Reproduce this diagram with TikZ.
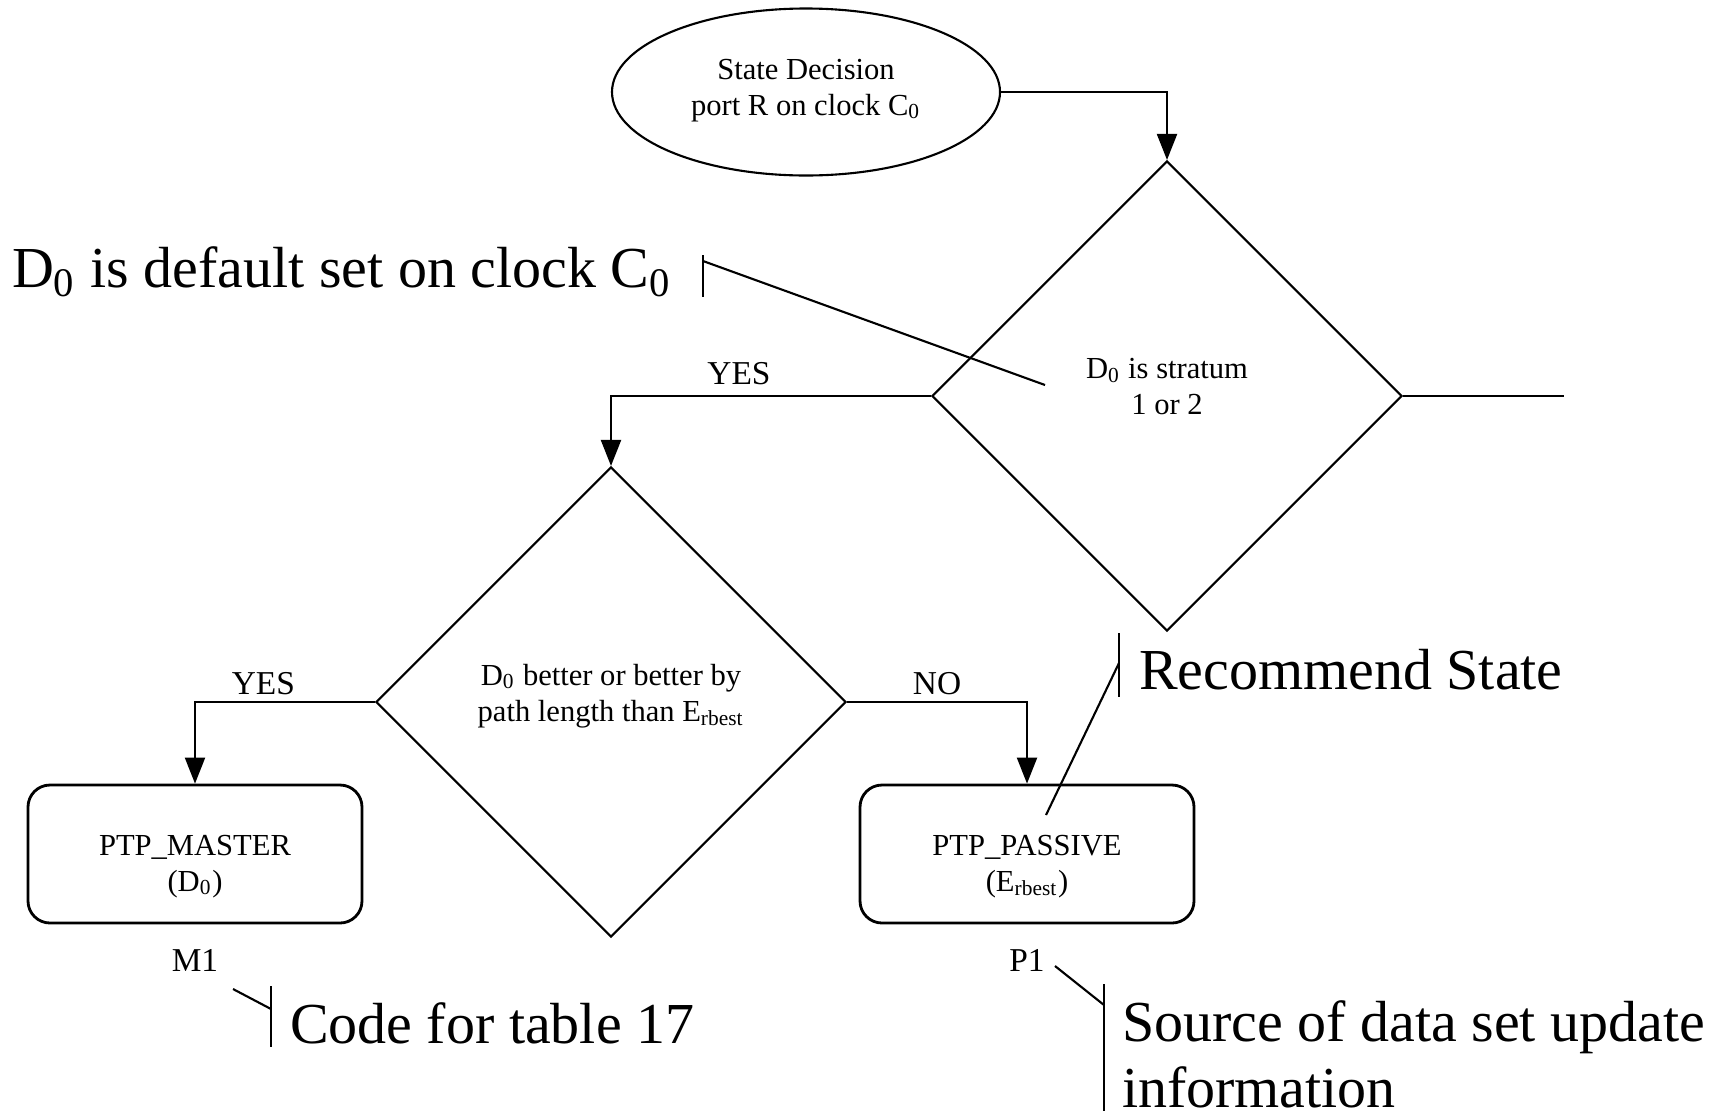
\documentclass[tikz,border=0pt]{standalone}
\usepackage{fontspec}
\setmainfont{Liberation Serif}
\usetikzlibrary{shapes.geometric}
\usetikzlibrary{positioning}
\usetikzlibrary{arrows.meta}

\newcommand{\boxStrut}{\rule{0pt}{0.45cm}}
\newcommand{\liftStrut}{\rule[-0.19cm]{0pt}{0pt}}

\begin{document}
\begin{tikzpicture}[line width = 0.6pt,
                    smallText/.style = {font = \fontsize{8.7}{10.3}\selectfont, align = center},
                    flowLabel/.style = {font = \fontsize{9.5}{11}\selectfont, inner sep = 1pt},
                    bigText/.style = {font = \fontsize{16.5}{18.8}\selectfont, align = left, inner sep = 0pt},
                    startEllipse/.style = {smallText, draw, ellipse, inner sep = 0pt, minimum width = 3.88cm, minimum height = 1.67cm},
                    decisionDiamond/.style = {smallText, draw, diamond, inner sep = 0pt, minimum width = 4.70cm, minimum height = 4.70cm},
                    stateBox/.style = {smallText, draw, rectangle, rounded corners = 0.22cm, line width = 0.8pt, minimum width = 3.34cm, minimum height = 1.38cm},
                    flowArrow/.style = {-{Triangle[length = 0.26cm, width = 0.2cm]}}]
    \useasboundingbox (0,0) rectangle (17.27,-11.11);

    % flow chart
    \node [startEllipse]    (start)   at (8.06,-0.92)  {State Decision\\port R on clock C\textsubscript{0}\rule[-0.1cm]{0pt}{0pt}};
    \node [decisionDiamond] (stratum) at (11.67,-3.96) {D\textsubscript{0} is stratum\\1 or 2\liftStrut};
    \node [decisionDiamond] (better)  at (6.11,-7.02)  {D\textsubscript{0} better or better by\\path length than E\textsubscript{rbest}\liftStrut};
    \node [stateBox]        (master)  at (1.95,-8.54)  {\boxStrut PTP\_MASTER\\(D\textsubscript{0})};
    \node [stateBox]        (passive) at (10.27,-8.54) {\boxStrut PTP\_PASSIVE\\(E\textsubscript{rbest})};

    \node [flowLabel, below = 0.2cm of master]  (codeM) {M1};
    \node [flowLabel, below = 0.2cm of passive] (codeP) {P1};

    \coordinate (stratumOut) at (15.64,-3.96);

    \draw [flowArrow] (start.east) -| (stratum.north);
    \draw [flowArrow] (stratum.west) -| (better.north)  node [flowLabel, pos = 0.3, above = 2pt]    {YES};
    \draw [flowArrow] (better.west)  -| (master.north)  node [flowLabel, pos = 0.31, above = 0.8pt] {YES};
    \draw [flowArrow] (better.east)  -| (passive.north) node [flowLabel, pos = 0.25, above = 0.8pt] {NO};
    \draw (stratum.east) -- (stratumOut);

    % callouts
    \node [bigText, anchor = west] (defaultNote) at (0.11,-2.72) {D\textsubscript{0} is default set on clock C\textsubscript{0}};
    \coordinate (defaultBarTop) at (7.03,-2.55);
    \coordinate (defaultBarBot) at (7.03,-2.97);
    \coordinate (defaultHook)   at (7.03,-2.61);
    \coordinate (defaultTip)    at (10.45,-3.85);
    \draw (defaultBarTop) -- (defaultBarBot);
    \draw (defaultHook) -- (defaultTip);

    \node [bigText, anchor = west] (recommendNote) at (11.38,-6.70) {Recommend State};
    \coordinate (recommendBarTop) at (11.19,-6.33);
    \coordinate (recommendBarBot) at (11.19,-6.97);
    \coordinate (recommendHook)   at (11.19,-6.63);
    \coordinate (recommendTip)    at (10.46,-8.15);
    \draw (recommendBarTop) -- (recommendBarBot);
    \draw (recommendHook) -- (recommendTip);

    \node [bigText, anchor = west] (tableNote) at (2.89,-10.23) {Code for table 17};
    \coordinate (tableBarTop) at (2.71,-9.86);
    \coordinate (tableBarBot) at (2.71,-10.47);
    \coordinate (tableHook)   at (2.71,-10.09);
    \coordinate (tableTip)    at (2.33,-9.89);
    \draw (tableBarTop) -- (tableBarBot);
    \draw (tableHook) -- (tableTip);

    \node [bigText, anchor = north west] (sourceNote) at (11.21,-10.00) {Source of data set update\\information};
    \coordinate (sourceBarTop) at (11.04,-9.84);
    \coordinate (sourceBarBot) at (11.04,-11.11);
    \coordinate (sourceHook)   at (11.04,-10.05);
    \coordinate (sourceTip)    at (10.55,-9.66);
    \draw (sourceBarTop) -- (sourceBarBot);
    \draw (sourceHook) -- (sourceTip);
\end{tikzpicture}
\end{document}
